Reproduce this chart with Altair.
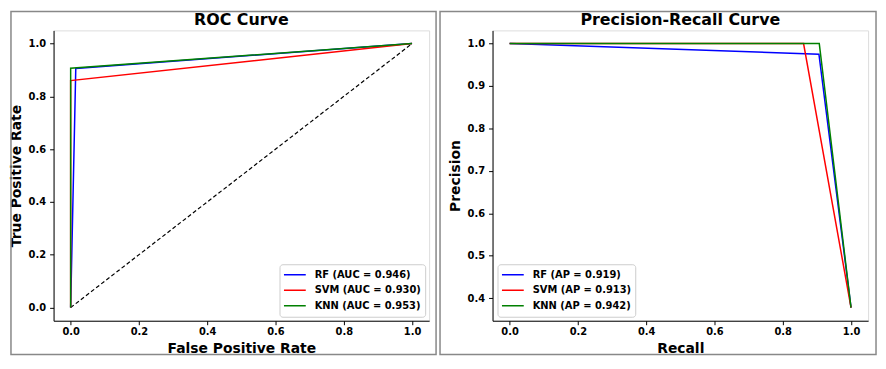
import altair as alt
import pandas as pd

# ---- data ----
roc_labels = ["RF (AUC = 0.946)", "SVM (AUC = 0.930)", "KNN (AUC = 0.953)"]
roc_fpr = {"RF": [0.0, 0.015, 1.0], "SVM": [0.0, 0.0, 1.0], "KNN": [0.0, 0.0, 1.0]}
roc_tpr = {"RF": [0.0, 0.906, 1.0], "SVM": [0.0, 0.86, 1.0], "KNN": [0.0, 0.907, 1.0]}

pr_labels = ["RF (AP = 0.919)", "SVM (AP = 0.913)", "KNN (AP = 0.942)"]
pr_recall = {"RF": [0.0, 0.906, 1.0], "SVM": [0.0, 0.861, 1.0], "KNN": [0.0, 0.907, 1.0]}
pr_precision = {"RF": [1.0, 0.975, 0.378], "SVM": [1.0, 1.0, 0.378], "KNN": [1.0, 1.0, 0.378]}

models = ["RF", "SVM", "KNN"]
colors = ["#0000ff", "#ff0000", "#008000"]
diag_x = [0.0, 1.0]
diag_y = [0.0, 1.0]
ticks = [0.0, 0.2, 0.4, 0.6, 0.8, 1.0]
pr_yticks = [0.4, 0.5, 0.6, 0.7, 0.8, 0.9, 1.0]
titles = ["ROC Curve", "Precision-Recall Curve"]

FONT = "DejaVu Sans"
W, H = 379, 293


def build(labels, xs, ys):
    rows = []
    for m, lab in zip(models, labels):
        for i, (a, b) in enumerate(zip(xs[m], ys[m])):
            rows.append({"model": lab, "x": a, "y": b, "i": i})
    return pd.DataFrame(rows)


roc_df = build(roc_labels, roc_fpr, roc_tpr)
pr_df = build(pr_labels, pr_recall, pr_precision)
diag_df = pd.DataFrame({"x": diag_x, "y": diag_y})


def axis(title, values, label_pad, title_pad):
    return alt.Axis(title=title, values=values, format=".1f", grid=False,
                    tickSize=4, labelPadding=label_pad, titlePadding=title_pad,
                    labelFont=FONT, labelFontWeight="bold", labelFontSize=10,
                    titleFont=FONT, titleFontWeight="bold", titleFontSize=14,
                    labelColor="black", titleColor="black",
                    domainColor="black", tickColor="black")


def legend(orient):
    return alt.Legend(title=None, orient=orient, offset=4.5, fillColor="white",
                      strokeColor="#cccccc", cornerRadius=3, padding=3.5,
                      symbolType="stroke", symbolSize=484, symbolStrokeWidth=1.5,
                      clipHeight=14, rowPadding=1.7, labelOffset=8,
                      labelFont=FONT, labelFontWeight="bold", labelFontSize=10,
                      labelColor="black")


def frame(x1, x2, y1, y2):
    return alt.Chart(pd.DataFrame({"a": [0]})).mark_rect(
        fillOpacity=0, stroke="#888888", strokeWidth=1.5, clip=False).encode(
        x=alt.value(x1), x2=alt.value(x2), y=alt.value(y1), y2=alt.value(y2))


def title_mark(text):
    return alt.Chart(pd.DataFrame({"t": [text]})).mark_text(
        font=FONT, fontWeight="bold", fontSize=16, color="black", align="center",
        baseline="top", clip=False).encode(
        x=alt.value(W / 2), y=alt.value(-18.5), text="t:N")


unit = alt.Scale(domain=[-0.05, 1.05], nice=False, zero=False)

roc_x = alt.X("x:Q", scale=unit, axis=axis("False Positive Rate", ticks, 2, 5))
roc_y = alt.Y("y:Q", scale=unit, axis=axis("True Positive Rate", ticks, 4, 5))

roc_lines = alt.Chart(roc_df).mark_line(strokeWidth=1.5).encode(
    x=roc_x, y=roc_y, order="i:Q",
    color=alt.Color("model:N", scale=alt.Scale(domain=roc_labels, range=colors), sort=roc_labels,
                    legend=legend("bottom-right")),
)
roc_diag = alt.Chart(diag_df).mark_line(color="black", strokeWidth=1.2, strokeDash=[4, 2.5]).encode(x="x:Q", y="y:Q")

roc = alt.layer(frame(-43, 386, -19, 327), title_mark(titles[0]), roc_diag, roc_lines).properties(
    width=W, height=H)

pr_x = alt.X("x:Q", scale=unit, axis=axis("Recall", ticks, 2, 5))
pr_y = alt.Y("y:Q", scale=alt.Scale(domain=[0.347, 1.031], nice=False, zero=False),
             axis=axis("Precision", pr_yticks, 4, 5))

pr_lines = alt.Chart(pr_df).mark_line(strokeWidth=1.5).encode(
    x=pr_x, y=pr_y, order="i:Q",
    color=alt.Color("model:N", scale=alt.Scale(domain=pr_labels, range=colors), sort=pr_labels,
                    legend=legend("bottom-left")),
)

pr = alt.layer(frame(-53, 387, -19, 327), title_mark(titles[1]), pr_lines).properties(
    width=W, height=H)

chart = alt.hconcat(roc, pr, spacing=64, bounds="flush").resolve_scale(color="independent").properties(
    padding=0
).configure_view(stroke="black", strokeWidth=1).configure(background="white")

chart.save("out.html", embed_options={"renderer": "svg", "actions": False})
